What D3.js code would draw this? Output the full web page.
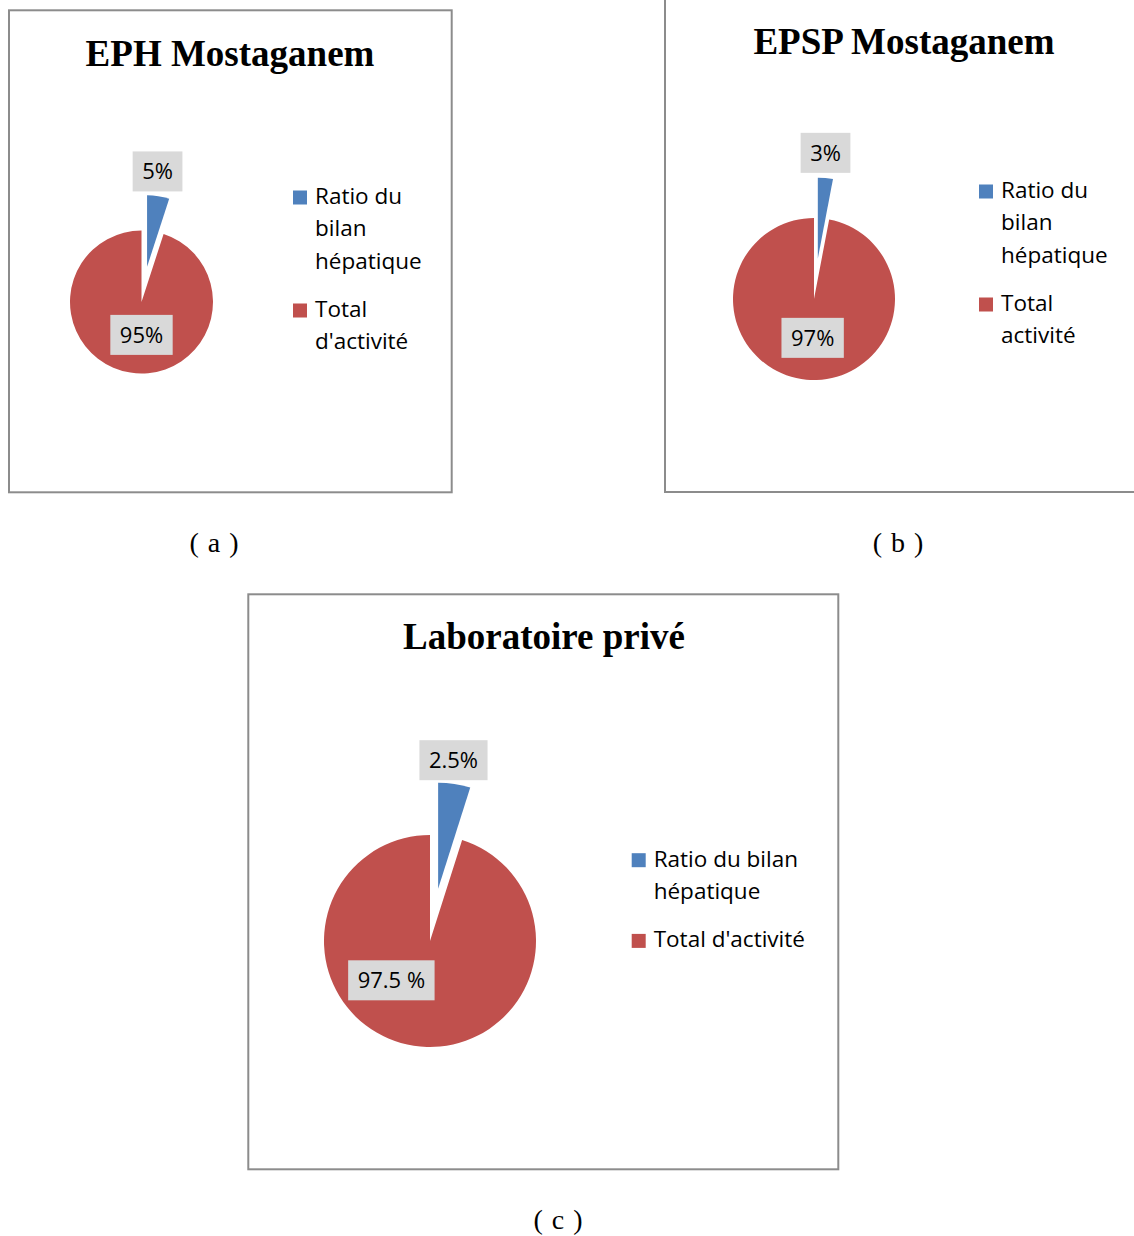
<!DOCTYPE html>
<html>
<head>
<meta charset="utf-8">
<script src="https://cdn.jsdelivr.net/npm/d3@7"></script>
<style>
  body { margin: 0; background: #fff; }
</style>
</head>
<body>
<div id="chart"></div>
<script>
// Data
const titles = ["EPH Mostaganem", "EPSP Mostaganem", "Laboratoire privé"];
const captions = ["( a )", "( b )", "( c )"];
const categoriesA = ["Ratio du bilan hépatique", "Total d'activité"];
const categoriesB = ["Ratio du bilan hépatique", "Total activité"];
const categoriesC = ["Ratio du bilan hépatique", "Total d'activité"];
const valuesA = [5, 95];
const valuesB = [3, 97];
// the wedge drawn in (c) is about as wide as in (a), even though its label reads 2.5%
const valuesC = [4.9, 95.1];
const labelsA = ["5%", "95%"];
const labelsB = ["3%", "97%"];
const labelsC = ["2.5%", "97.5 %"];

const colors = ["#4f81bd", "#c0504d"];
const deg = Math.PI / 180;

// Layout of the three panels (positions only)
const panels = [
    {
        cats: categoriesA, vals: valuesA, labels: labelsA,
        box: { x: 9, y: 10.3, w: 442.7, h: 482 },
        title: { x: 230, y: 66 },
        pie: { cx: 141.5, cy: 302, r: 71.5 },
        lab: [{ a: 7, k: 1.84 }, { a: 180, k: 0.46 }],
        legend: { x: 293, y: 204, wrap: 115 },
        caption: { x: 214, y: 552 }
    },
    {
        cats: categoriesB, vals: valuesB, labels: labelsB,
        box: { x: 665, y: -20, w: 600, h: 512 },
        title: { x: 904, y: 54 },
        pie: { cx: 814, cy: 299, r: 81 },
        lab: [{ a: 4.5, k: 1.81 }, { a: 182, k: 0.48 }],
        legend: { x: 979, y: 198, wrap: 115 },
        caption: { x: 898, y: 552 }
    },
    {
        cats: categoriesC, vals: valuesC, labels: labelsC,
        box: { x: 248.3, y: 594.3, w: 590, h: 575 },
        title: { x: 544, y: 648.5 },
        pie: { cx: 430, cy: 941, r: 106 },
        lab: [{ a: 7.4, k: 1.72 }, { a: 224.5, k: 0.52 }],
        legend: { x: 631.7, y: 866.7, wrap: 165 },
        caption: { x: 558, y: 1229 }
    }
];

const svg = d3.select("#chart")
    .append("svg")
    .attr("width", 1134)
    .attr("height", 1236);

const pie = d3.pie().sort(null).value(d => d);

panels.forEach((p, pi) => {
    const g = svg.append("g");

    // frame
    g.append("rect")
        .attr("x", p.box.x).attr("y", p.box.y)
        .attr("width", p.box.w).attr("height", p.box.h)
        .attr("fill", "none")
        .attr("stroke", "#8c8c8c")
        .attr("stroke-width", 2);

    // title
    g.append("text")
        .attr("x", p.title.x).attr("y", p.title.y)
        .attr("text-anchor", "middle")
        .style("font-family", "'Liberation Serif', 'Times New Roman', serif")
        .style("font-weight", "bold")
        .style("font-size", "37px")
        .text(titles[pi]);

    // pie
    const r = p.pie.r;
    const arc = d3.arc().innerRadius(0).outerRadius(r);
    const arcs = pie(p.vals);
    const explode = 0.5 * r;
    const pg = g.append("g").attr("transform", `translate(${p.pie.cx},${p.pie.cy})`);

    pg.selectAll("path")
        .data(arcs)
        .enter().append("path")
        .attr("d", arc)
        .attr("fill", (d, i) => colors[i])
        .attr("transform", (d, i) => {
            if (i !== 0) return null;
            const [dx, dy] = d3.pointRadial((d.startAngle + d.endAngle) / 2, explode);
            return `translate(${dx},${dy})`;
        });

    // data labels
    arcs.forEach((d, i) => {
        const [lx, ly] = d3.pointRadial(p.lab[i].a * deg, p.lab[i].k * r);
        const lg = pg.append("g").attr("transform", `translate(${lx},${ly})`);
        const t = lg.append("text")
            .attr("text-anchor", "middle")
            .attr("dy", "0.35em")
            .style("font-family", "'Open Sans', sans-serif")
            .style("font-size", "22px")
            .attr("fill", "#000")
            .text(p.labels[i]);
        const w = t.node().getComputedTextLength() + 19;
        lg.insert("rect", "text")
            .attr("x", -w / 2).attr("y", -20)
            .attr("width", w).attr("height", 40)
            .attr("fill", "#d9d9d9");
    });

    // legend with word wrap
    let y = p.legend.y;
    p.cats.forEach((c, i) => {
        g.append("rect")
            .attr("x", p.legend.x).attr("y", y - 13.5)
            .attr("width", 14).attr("height", 14)
            .attr("fill", colors[i]);
        const words = c.split(" ");
        let line = [];
        const t = g.append("text")
            .attr("x", p.legend.x + 22).attr("y", y)
            .style("font-family", "'Open Sans', sans-serif")
            .style("font-size", "22.5px");
        let tspan = t.append("tspan").attr("x", p.legend.x + 22).attr("y", y);
        words.forEach(w => {
            line.push(w);
            tspan.text(line.join(" "));
            if (tspan.node().getComputedTextLength() > p.legend.wrap && line.length > 1) {
                line.pop();
                tspan.text(line.join(" "));
                line = [w];
                y += 32.3;
                tspan = t.append("tspan").attr("x", p.legend.x + 22).attr("y", y).text(w);
            }
        });
        y += 48.4;
    });

    // caption
    svg.append("text")
        .attr("x", p.caption.x).attr("y", p.caption.y)
        .attr("text-anchor", "middle")
        .style("font-family", "'Liberation Serif', 'Times New Roman', serif")
        .style("font-size", "28px")
        .style("word-spacing", "2px")
        .text(captions[pi]);
});
</script>
</body>
</html>
